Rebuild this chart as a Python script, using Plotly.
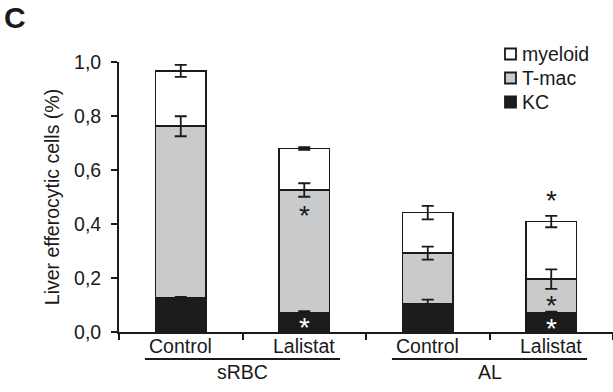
import numpy as np
import plotly.graph_objects as go

# bar order: sRBC Control, sRBC Lalistat, AL Control, AL Lalistat
conditions = ["Control", "Lalistat", "Control", "Lalistat"]
groups = ["sRBC", "AL"]

kc = [0.125, 0.072, 0.105, 0.070]
kc_err = [0.005, 0.005, 0.015, 0.005]
tmac = [0.637, 0.454, 0.187, 0.126]
tmac_err = [0.037, 0.025, 0.024, 0.036]
myeloid = [0.205, 0.154, 0.150, 0.213]
myeloid_err = [0.022, 0.005, 0.025, 0.021]

# significance markers (True = asterisk)
kc_sig = [False, True, False, True]
tmac_sig = [False, True, False, True]
total_sig = [False, False, False, True]

FONT = "Arial, Liberation Sans, sans-serif"
INK = "#1a1a1a"
W, H = 613, 392
L, R, T, B = 119, 0, 62, 60


def px(xp, yp):
    # pixel position -> paper coordinates
    return (xp - L) / (W - L - R), (H - B - yp) / (H - T - B)


x = np.arange(len(conditions))
kc_top = np.array(kc)
tmac_top = kc_top + np.array(tmac)
total_top = tmac_top + np.array(myeloid)

fig = go.Figure()
series = [("KC", kc, "#1c1c1c"), ("T-mac", tmac, "#c9cacc"), ("myeloid", myeloid, "#ffffff")]
for name, vals, col in series:
    fig.add_trace(go.Bar(x=x, y=vals, name=name, width=0.41, showlegend=False,
                         marker=dict(color=col, line=dict(color=INK, width=1.6))))

# error bars drawn on top of all bars
for tops, errs in [(kc_top, kc_err), (tmac_top, tmac_err), (total_top, myeloid_err)]:
    fig.add_trace(go.Scatter(x=x, y=tops, mode="markers", marker=dict(size=1, opacity=0),
                             showlegend=False, hoverinfo="skip",
                             error_y=dict(type="data", array=errs, color=INK,
                                          thickness=1.8, width=6)))

# asterisks
ast = dict(size=28, family=FONT)
for i in range(len(x)):
    if kc_sig[i]:
        fig.add_annotation(x=x[i], y=kc_top[i], text="*", showarrow=False, yanchor="middle",
                           yshift=-15, font=dict(ast, color="white"))
    if tmac_sig[i]:
        fig.add_annotation(x=x[i], y=tmac_top[i], text="*", showarrow=False, yanchor="middle",
                           yshift=-26, font=dict(ast, color=INK))
    if total_sig[i]:
        fig.add_annotation(x=x[i], y=total_top[i], text="*", showarrow=False, yanchor="middle",
                           yshift=21, font=dict(ast, color=INK))

# condition labels
for i, c in enumerate(conditions):
    fig.add_annotation(x=x[i], y=0, yref="paper", text=c, showarrow=False, yanchor="middle",
                       yshift=-14, font=dict(size=19.5, color=INK, family=FONT))

# group labels with underline
for g_i, g in enumerate(groups):
    center = 2 * g_i + 0.5
    fig.add_shape(type="line", xref="x", yref="paper", x0=center - 0.79, x1=center + 0.79,
                  y0=-0.1, y1=-0.1, line=dict(color=INK, width=1.8))
    fig.add_annotation(x=center, y=0, yref="paper", text=g, showarrow=False, yanchor="middle",
                       yshift=-40, font=dict(size=19.5, color=INK, family=FONT))

# legend (top item first)
leg_rows = [("myeloid", "#ffffff"), ("T-mac", "#c9cacc"), ("KC", "#1c1c1c")]
for k, (name, col) in enumerate(leg_rows):
    cy = 54 + k * 24
    x0, y0 = px(505, cy - 5.5)
    x1, y1 = px(516, cy + 5.5)
    fig.add_shape(type="rect", xref="paper", yref="paper", x0=x0, x1=x1, y0=y0, y1=y1,
                  fillcolor=col, line=dict(color=INK, width=1.8))
    tx, ty = px(520, cy)
    fig.add_annotation(x=tx, y=ty, xref="paper", yref="paper", text=name, showarrow=False,
                       xanchor="left", yanchor="middle",
                       font=dict(size=19.5, color=INK, family=FONT))

cx, cy = px(2, -1)
fig.add_annotation(x=cx, y=cy, xref="paper", yref="paper", text="<b>C</b>", showarrow=False,
                   xanchor="left", yanchor="top", font=dict(size=30, color=INK, family=FONT))

fig.update_layout(
    width=W, height=H,
    margin=dict(l=L, r=R, t=T, b=B, autoexpand=False),
    barmode="stack",
    plot_bgcolor="white", paper_bgcolor="white",
    separators=",.",
    font=dict(family=FONT, size=19.5, color=INK),
    showlegend=False,
    xaxis=dict(range=[-0.5, 3.5], tickvals=[-0.5, 0.5, 1.5, 2.5, 3.5], ticktext=[""] * 5,
               showline=True, linecolor=INK, linewidth=1.8, ticks="outside",
               ticklen=6, tickwidth=1.8, tickcolor=INK, showgrid=False, zeroline=False),
    yaxis=dict(range=[0, 1.0], tickvals=[0, 0.2, 0.4, 0.6, 0.8, 1.0], tickformat=".1f",
               showline=True, linecolor=INK, linewidth=1.8, ticks="outside",
               ticklen=6, tickwidth=1.8, tickcolor=INK, showgrid=False, zeroline=False,
               ticklabelstandoff=6,
               title=dict(text="Liver efferocytic cells (%)", font=dict(size=19.5), standoff=9)),
)

# drop the page's default body margin so the figure sits at the window corner
fig.write_html("out.html", config={"displayModeBar": False},
               post_script="document.body.style.margin='0';")
